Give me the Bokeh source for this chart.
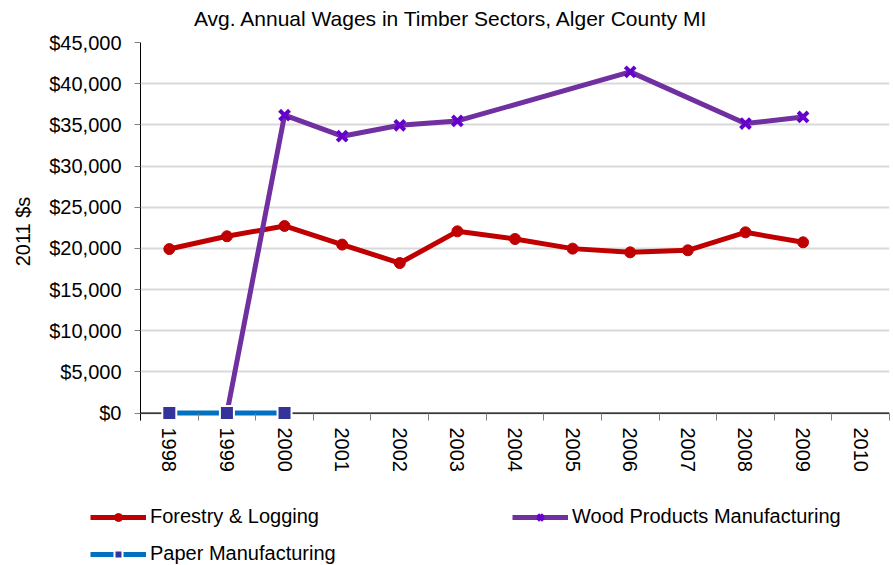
from bokeh.plotting import figure
from bokeh.layouts import column
from bokeh.models import (Range1d, FixedTicker, NumeralTickFormatter, Legend, LegendItem, Label, Span)
from bokeh.embed import file_html
from bokeh.resources import INLINE

years = [1998, 1999, 2000, 2001, 2002, 2003, 2004, 2005, 2006, 2007, 2008, 2009, 2010]
year_labels = [str(y) for y in years]
forestry = [19920, 21470, 22720, 20460, 18220, 22070, 21140, 19970, 19520, 19770, 21950, 20740, None]
wood = [None, 0, 36170, 33620, 34950, 35480, None, None, 41430, None, 35160, 35960, None]
paper = [0, 0, 0, None, None, None, None, None, None, None, None, None, None]
y_ticks = [0, 5000, 10000, 15000, 20000, 25000, 30000, 35000, 40000, 45000]
title_text = "Avg. Annual Wages in Timber Sectors, Alger County MI"
y_label = "2011 $s"
names = ["Forestry & Logging", "Wood Products Manufacturing", "Paper Manufacturing"]

FONT = "Liberation Sans"
FS = "20px"
W = 893
H_TITLE, H_MAIN, H_LEG = 30, 465, 70
STY = {
    "f": dict(line_color="#C00000", marker="circle", size=11, fill="#C00000", mline="#C00000", mw=1),
    "w": dict(line_color="#7030A0", marker="x", size=14, fill="#6600CC", mline="#6600CC", mw=4),
    "p": dict(line_color="#0070C0", marker="square", size=14, fill="#333399", mline="white", mw=2),
}

def pts(vals):
    xs = [y for y, v in zip(years, vals) if v is not None]
    ys = [v for v in vals if v is not None]
    return xs, ys

def draw(fig, key, xs, ys):
    s = STY[key]
    l = fig.line(xs, ys, line_color=s["line_color"], line_width=5)
    m = fig.scatter(xs, ys, marker=s["marker"], size=s["size"], fill_color=s["fill"],
                    line_color=s["mline"], line_width=s["mw"])
    return l, m

def strip(h):
    f = figure(width=W, height=h, output_backend="svg", toolbar_location=None,
               x_range=Range1d(0, 1), y_range=Range1d(0, 1), x_axis_type=None, y_axis_type=None,
               min_border=0, min_border_left=0, min_border_right=0, min_border_top=0, min_border_bottom=0)
    f.frame_align = False
    f.outline_line_color = None
    f.grid.grid_line_color = None
    return f

# title strip
tf = strip(H_TITLE)
tf.add_layout(Label(x=451, y=H_TITLE - 18, x_units="screen", y_units="screen", text=title_text,
                    text_align="center", text_baseline="middle", text_font=FONT,
                    text_font_size="21px", text_color="black"))

# main chart
p = figure(width=W, height=H_MAIN, output_backend="svg", toolbar_location=None,
           x_range=Range1d(years[0] - 0.5, years[-1] + 0.5), y_range=Range1d(-900, 45000),
           min_border_left=140, min_border_right=4, min_border_top=42 - H_TITLE,
           min_border_bottom=H_MAIN + H_TITLE - 420)
p.frame_align = False
p.outline_line_color = None
p.background_fill_color = "white"

p.xaxis.ticker = FixedTicker(ticks=years, minor_ticks=[y - 0.5 for y in years] + [years[-1] + 0.5])
p.xaxis.major_label_overrides = {y: l for y, l in zip(years, year_labels)}
p.xaxis.major_label_orientation = "vertical"
p.xaxis.major_tick_out = 0
p.xaxis.major_tick_in = 0
p.xaxis.minor_tick_out = 0
p.xaxis.minor_tick_in = 7
p.xaxis.minor_tick_line_color = "#808080"
p.xaxis.axis_line_color = None
p.xaxis.major_label_text_font = FONT
p.xaxis.major_label_text_font_size = FS
p.xaxis.major_label_text_color = "black"
p.xaxis.major_label_standoff = 7

# category axis line drawn at the zero value
p.add_layout(Span(location=y_ticks[0], dimension="width", line_color="black", line_width=1.2, level="underlay"))

p.yaxis.ticker = FixedTicker(ticks=y_ticks)
p.yaxis.formatter = NumeralTickFormatter(format="$0,0")
p.yaxis.major_tick_out = 6
p.yaxis.major_tick_in = 0
p.yaxis.major_tick_line_color = "#808080"
p.yaxis.minor_tick_line_color = None
p.yaxis.axis_line_color = "black"
p.yaxis.major_label_text_font = FONT
p.yaxis.major_label_text_font_size = FS
p.yaxis.major_label_text_color = "black"
p.yaxis.major_label_standoff = 13
p.yaxis.axis_label = y_label
p.yaxis.axis_label_text_font = FONT
p.yaxis.axis_label_text_font_size = FS
p.yaxis.axis_label_text_font_style = "normal"
p.yaxis.axis_label_text_color = "black"
p.yaxis.axis_label_standoff = 12

p.xgrid.grid_line_color = None
p.ygrid.grid_line_color = "#D9D9D9"
p.ygrid.grid_line_width = 2

series = [("f", forestry), ("w", wood), ("p", paper)]
for key, vals in series:
    draw(p, key, *pts(vals))

# legend strip (its own renderers sit outside its visible range)
lg = strip(H_LEG)
items = []
for (key, vals), name in zip(series, names):
    xs, ys = pts(vals)
    l, m = draw(lg, key, xs[:1], ys[:1])
    items.append(LegendItem(label=name, renderers=[l, m]))

legend = Legend(items=items, location=(90, 0), ncols=2, orientation="horizontal")
legend.label_text_font = FONT
legend.label_text_font_size = FS
legend.label_text_color = "black"
legend.glyph_width = 56
legend.glyph_height = 20
legend.label_height = 20
legend.label_width = 348
legend.label_standoff = 4
legend.spacing = 14
legend.padding = 0
legend.margin = 0
legend.border_line_color = None
legend.background_fill_alpha = 0
lg.add_layout(legend, "center")

open("out.html", "w").write(file_html(column(tf, p, lg), INLINE))
